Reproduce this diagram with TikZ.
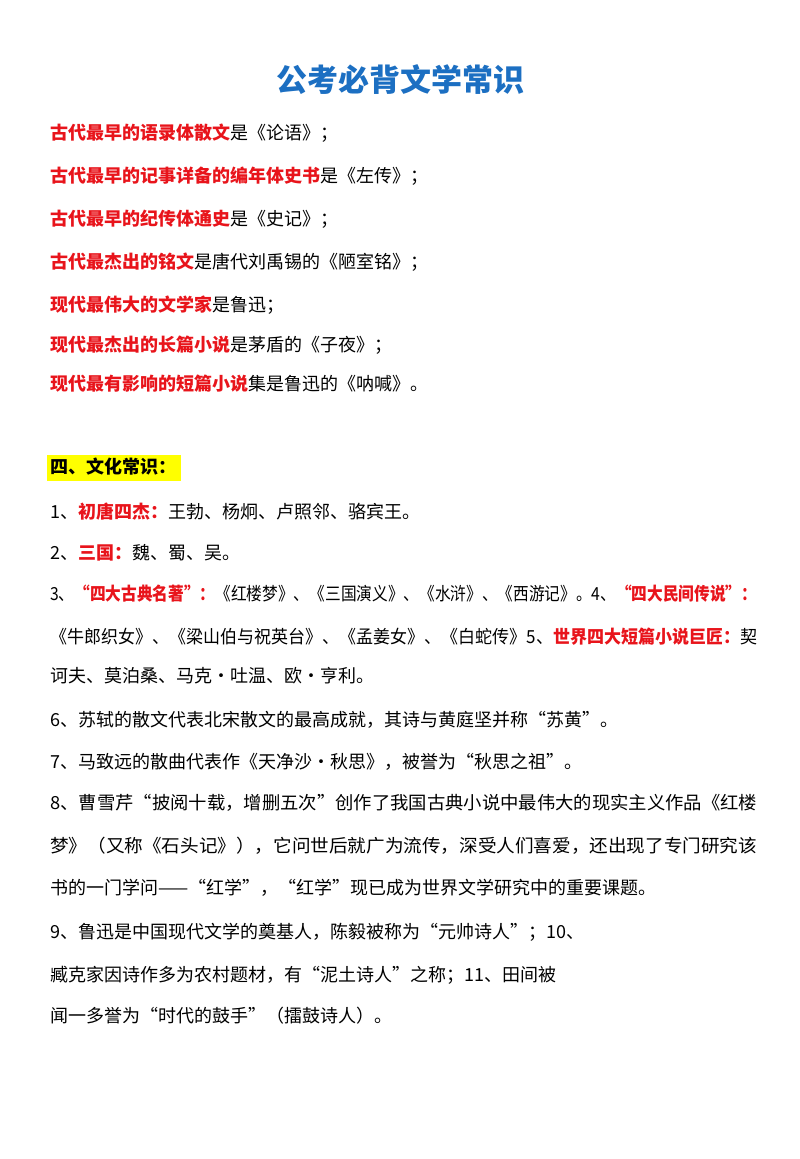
\documentclass[tikz,border=0pt]{standalone}
\usepackage{fontspec}
\usepackage{graphicx}
\setmainfont{Noto Sans CJK SC}
\definecolor{rd}{HTML}{E8141B}
\definecolor{tb}{HTML}{1C6FC2}
\definecolor{hl}{HTML}{FFFF00}
\newcommand{\R}[1]{\textcolor{rd}{\bfseries #1}}
\newcommand{\J}[1]{\resizebox{707pt}{\height}{#1}}
\begin{document}
\begin{tikzpicture}[x=1pt,y=-1pt,
  ln/.style={anchor=west,inner sep=0pt,font=\fontsize{18}{20}\selectfont}]
\useasboundingbox (0,0) rectangle (800,1159);
\node[font=\fontsize{31}{34}\selectfont\bfseries,text=tb] (title) at (400,80) {公考必背文学常识};
\node[ln] (l1) at (50,133) {\R{古代最早的语录体散文}是《论语》；};
\node[ln] (l2) at (50,176) {\R{古代最早的记事详备的编年体史书}是《左传》；};
\node[ln] (l3) at (50,219) {\R{古代最早的纪传体通史}是《史记》；};
\node[ln] (l4) at (50,262) {\R{古代最杰出的铭文}是唐代刘禹锡的《陋室铭》；};
\node[ln] (l5) at (50,305) {\R{现代最伟大的文学家}是鲁迅；};
\node[ln] (l6) at (50,345) {\R{现代最杰出的长篇小说}是茅盾的《子夜》；};
\node[ln] (l7) at (50,384) {\R{现代最有影响的短篇小说}集是鲁迅的《呐喊》。};
\fill[hl] (47,455) rectangle (181,481);
\node[ln] (h) at (50,467) {\bfseries 四、文化常识：};
\node[ln] (a1) at (50,512) {1、\R{初唐四杰：}王勃、杨炯、卢照邻、骆宾王。};
\node[ln] (a2) at (50,553) {2、\R{三国：}魏、蜀、吴。};
\node[ln] (a3) at (50,594) {\J{3、\R{“四大古典名著”：}《红楼梦》、《三国演义》、《水浒》、《西游记》。4、\R{“四大民间传说”：}}};
\node[ln] (a4) at (50,637) {\J{《牛郎织女》、《梁山伯与祝英台》、《孟姜女》、《白蛇传》5、\R{世界四大短篇小说巨匠：}契}};
\node[ln] (a5) at (50,676) {诃夫、莫泊桑、马克•吐温、欧•亨利。};
\node[ln] (a6) at (50,720) {6、苏轼的散文代表北宋散文的最高成就，其诗与黄庭坚并称“苏黄”。};
\node[ln] (a7) at (50,762) {7、马致远的散曲代表作《天净沙•秋思》，被誉为“秋思之祖”。};
\node[ln] (a8) at (50,803) {\J{8、曹雪芹“披阅十载，增删五次”创作了我国古典小说中最伟大的现实主义作品《红楼}};
\node[ln] (a9) at (50,846) {\J{梦》（又称《石头记》），它问世后就广为流传，深受人们喜爱，还出现了专门研究该}};
\node[ln] (a10) at (50,888) {书的一门学问——“红学”，“红学”现已成为世界文学研究中的重要课题。};
\node[ln] (a11) at (50,932) {9、鲁迅是中国现代文学的奠基人，陈毅被称为“元帅诗人”；10、};
\node[ln] (a12) at (50,975) {臧克家因诗作多为农村题材，有“泥土诗人”之称；11、田间被};
\node[ln] (a13) at (50,1016) {闻一多誉为“时代的鼓手”（擂鼓诗人）。};
\end{tikzpicture}
\end{document}
